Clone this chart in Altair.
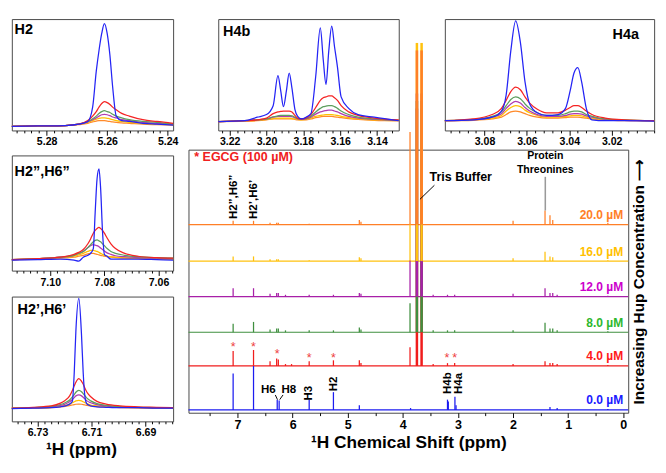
import altair as alt
import numpy as np
import pandas as pd

# ---------------- series / colours ----------------
SERIES = ["0.0", "4.0", "8.0", "12.0", "16.0", "20.0"]
CONC_LABELS = ["0.0 µM", "4.0 µM", "8.0 µM", "12.0 µM", "16.0 µM", "20.0 µM"]
LINE_COLORS = ["#1c1cf0", "#f01c1c", "#3f8f3f", "#a820a8", "#ffc20e", "#ff7f27"]
LABEL_COLORS = ["#1a1aff", "#ff1a1a", "#2eb82e", "#cc00cc", "#ffc000", "#ff7f27"]
INSET_COLORS = ["#2424f5", "#f52424", "#5e9e5e", "#b03cb0", "#ffc000", "#ff8a2a"]
INSET_DRAW_ORDER = ["20.0", "16.0", "12.0", "8.0", "4.0", "0.0"]
STACK_OFFSET = [3, 50, 86, 124, 162, 201]

# ---------------- main 1D spectra (peak positions / heights) ----------------
PEAK_PPM = {
    "0.0": [7.08, 6.71, 6.28, 6.245, 5.70, 5.26, 4.79, 3.86, 3.19, 3.175, 3.055, 3.035, 1.33, 1.20, 0.28],
    "4.0": [7.08, 6.71, 6.41, 6.29, 6.26, 6.13, 6.02, 5.70, 5.26, 4.79, 4.76, 3.87, 3.45, 3.19, 3.06, 2.00, 1.42, 1.33, 1.28, 1.20, 0.28],
    "8.0": [7.08, 6.71, 6.41, 6.29, 6.26, 6.13, 5.70, 5.26, 4.79, 4.76, 3.87, 3.45, 3.19, 3.06, 2.00, 1.42, 1.33, 1.28, 1.20, 0.28],
    "12.0": [7.08, 6.71, 6.41, 6.29, 6.26, 6.13, 5.70, 5.26, 4.79, 4.76, 3.87, 3.45, 3.19, 3.06, 2.00, 1.42, 1.33, 1.28, 1.20, 0.28],
    "16.0": [7.08, 6.71, 6.41, 6.29, 6.26, 5.70, 4.79, 4.76, 3.87, 2.00, 1.42, 1.33, 1.28, 0.28],
    "20.0": [7.08, 6.71, 6.41, 6.29, 6.26, 5.70, 4.79, 4.76, 3.87, 2.00, 1.42, 1.33, 1.28, 0.28],
}
PEAK_H = {
    "0.0": [39, 47, 11, 10, 11, 19, 5, 2, 11, 9, 14, 5, 3, 2, 1],
    "4.0": [16, 17, 5, 8, 7, 2, 2, 5, 6, 6, 3, 20, 2, 3, 3, 2, 5, 3, 3, 2, 1],
    "8.0": [9, 11, 3, 4, 4, 2, 2, 2, 5, 3, 31, 2, 2, 2, 2, 10, 4, 4, 2, 1],
    "12.0": [9, 9, 3, 4, 4, 2, 2, 2, 4, 3, 39, 2, 2, 2, 3, 9, 4, 4, 2, 1],
    "16.0": [5, 5, 2, 2, 2, 1, 4, 3, 40, 3, 10, 5, 4, 1],
    "20.0": [4, 4, 2, 2, 2, 1, 5, 3, 99, 4, 15, 10, 5, 2],
}
TALL_PPM = [3.745, 3.66]
TALL_H = {"4.0": [275, 275], "8.0": [247, 247], "12.0": [217, 217], "16.0": [233, 233], "20.0": [186, 186]}

ROT_LABELS = ["H2\u201d,H6\u201d", "H2\u2019,H6\u2019", "H3", "H2", "H4b", "H4a"]
ROT_PPM = [7.08, 6.71, 5.72, 5.265, 3.20, 3.00]
ROT_Y = [207, 207, 13, 23, 20, 20]
HOR_LABELS = ["H6", "H8"]
HOR_PPM = [6.44, 6.07]
HOR_Y = [25, 25]
STAR_PPM = [7.08, 6.71, 6.28, 5.70, 5.26, 3.20, 3.06]
STAR_Y = [73, 73, 66, 61, 61, 61, 61]

# ---------------- inset spectra ----------------
H2_PPM = [5.2915, 5.2830, 5.2739, 5.2694, 5.2664, 5.2648, 5.2636, 5.2627, 5.2618, 5.2609, 5.2600,
          5.2591, 5.2582, 5.2570, 5.2552, 5.2527, 5.2482, 5.2436, 5.2382]
H2_VAL = {
    "0.0": [0.5, 1, 1.5, 3, 6, 22, 62, 85, 104, 115, 104, 80, 45, 12, 7, 6, 4, 3, 2],
    "4.0": [0.5, 1, 1.5, 3, 7, 12, 17, 22, 26, 28, 27, 25, 22, 19, 15, 12, 8, 6, 4],
    "8.0": [0.5, 1, 1.5, 3, 6, 9, 12, 15, 17, 18, 17, 16, 14, 12, 10, 8, 6, 5, 3],
    "12.0": [0.5, 1, 1.5, 3, 5.5, 8, 10, 12, 13.5, 14, 13.5, 12.5, 11, 10, 8, 7, 5, 4, 3],
    "16.0": [0.5, 1, 1.5, 3, 5, 7, 8.5, 9.5, 10, 10, 9.5, 9, 8, 7, 6, 5, 4, 3, 2.5],
    "20.0": [0.5, 1, 1.5, 2.5, 4, 5.5, 6.5, 7, 7, 7, 6.5, 6, 5.5, 5, 4.5, 4, 3, 2.5, 2],
}
H4B_PPM = [3.2262, 3.2118, 3.2051, 3.2000, 3.1964, 3.1938, 3.1923, 3.1908, 3.1892, 3.1877, 3.1862,
           3.1846, 3.1831, 3.1810, 3.1785, 3.1759, 3.1733, 3.1708, 3.1692, 3.1677, 3.1662, 3.1646,
           3.1631, 3.1615, 3.1595, 3.1554, 3.1503, 3.1415, 3.1282]
H4B_VAL = {
    "0.0": [0, 1, 5, 8, 18, 52, 35, 17, 35, 55, 38, 14, 6, 3, 5, 9, 51, 106, 70, 42, 80, 108, 85, 62, 28, 15, 8, 5, 1],
    "4.0": [0, 1, 2, 4, 9, 11, 11.5, 12, 12, 12, 11, 7, 4, 3, 4, 8, 16, 24, 27, 28, 29, 29, 27, 24, 18, 11, 7, 4, 2],
    "8.0": [0, 1, 2, 3, 5.5, 6.5, 7, 7, 7, 7, 6.5, 5, 3.5, 3, 3.5, 6, 11, 15, 17, 17.5, 18, 18, 17, 15, 12, 8, 5, 3, 1.5],
    "12.0": [0, 1, 2, 3, 5, 6, 6, 6, 6, 6, 5.5, 4.5, 3, 2.5, 3, 5, 8.5, 11, 12, 12.5, 13, 13, 12, 11, 9, 6, 4, 2.5, 1],
    "16.0": [0, 1, 1.5, 2.5, 3.5, 4, 4, 4, 4, 4, 3.5, 3, 2.5, 2, 2.5, 4, 6, 7, 7.5, 8, 8, 8, 7.5, 7, 6, 4.5, 3, 2, 1],
    "20.0": [0, 0.5, 1, 2, 3, 3, 3, 3, 3, 3, 3, 2.5, 2, 2, 2, 3, 4.5, 5.5, 6, 6, 6, 6, 5.5, 5, 4.5, 3.5, 2.5, 1.5, 1],
}
H4A_PPM = [3.0987, 3.0853, 3.0764, 3.0720, 3.0698, 3.0676, 3.0653, 3.0631, 3.0609, 3.0587, 3.0551,
           3.0507, 3.0453, 3.0418, 3.0396, 3.0378, 3.0360, 3.0342, 3.0320, 3.0293, 3.0231, 3.0142, 3.0000]
H4A_VAL = {
    "0.0": [1, 2, 5, 12, 30, 80, 114, 90, 45, 20, 10, 7, 8, 15, 35, 55, 61, 45, 15, 2, 1, 1, 0.5],
    "4.0": [1, 3, 8, 15, 24, 34, 39, 36, 28, 21, 14, 10, 10, 13, 16, 18, 18, 16, 12, 8, 4, 2, 1],
    "8.0": [1, 2.5, 6, 11, 18, 25, 28, 26, 20, 15, 10, 7, 7, 9, 11, 12, 12, 11, 8, 6, 3, 2, 1],
    "12.0": [1, 2, 5, 9, 15, 20, 23, 21, 16, 12, 8, 6, 6, 7, 8.5, 9, 9, 8.5, 6.5, 5, 2.5, 1.5, 1],
    "16.0": [1, 2, 4, 7, 12, 16, 18, 17, 13, 10, 7, 5, 5, 6, 6.5, 7, 7, 6.5, 5, 4, 2, 1.5, 1],
    "20.0": [1, 1.5, 3, 5, 8, 11, 12, 11, 9, 7, 5, 4, 4, 4.5, 5, 5, 5, 4.5, 4, 3, 2, 1, 1],
}
H26PP_PPM = [7.1142, 7.1047, 7.0963, 7.0912, 7.0895, 7.0878, 7.0861, 7.0851, 7.0841, 7.0834, 7.0827,
             7.0820, 7.0814, 7.0807, 7.0800, 7.0790, 7.0776, 7.0759, 7.0725, 7.0675, 7.0607, 7.0546]
H26PP_VAL = {
    "0.0": [0, 0.5, 1, 0, -1, 3, 5, 7, 12, 50, 85, 95, 75, 30, 6, 4, 1, 1, 1, 1, 0.5, 0],
    "4.0": [0.5, 1.5, 3, 6, 8, 11, 17, 22, 28, 31, 33, 34, 33, 31, 28, 23, 17, 12, 7, 4, 2.5, 2],
    "8.0": [0.5, 1.5, 3, 5, 7, 9, 13, 16, 19, 20.5, 21, 20, 19, 17, 15, 12, 9, 7, 5, 3.5, 2.5, 2],
    "12.0": [0.5, 1.5, 3, 5, 7, 9, 13, 15, 16, 15.5, 15, 14, 12.5, 11, 9.5, 7.5, 6, 4.5, 3.5, 2.5, 2, 1.5],
    "16.0": [0.5, 1.5, 2.5, 4, 5.5, 7, 9, 10, 10, 9.5, 9, 8, 7, 6, 5, 4, 3.5, 3, 2.5, 2, 1.5, 1],
    "20.0": [0.5, 1, 2, 3, 4, 5, 6.5, 7, 7, 6.5, 6, 5.5, 5, 4.5, 4, 3.5, 3, 2.5, 2, 1.5, 1.2, 1],
}
H26P_PPM = [6.7395, 6.7317, 6.7249, 6.7215, 6.7198, 6.7181, 6.7171, 6.7164, 6.7158, 6.7147, 6.7137,
            6.7131, 6.7124, 6.7117, 6.7103, 6.7080, 6.7046, 6.6995, 6.6927, 6.6859, 6.6798]
H26P_VAL = {
    "0.0": [0, 0.5, 1, 2, 3, 5, 8, 40, 85, 121, 80, 40, 12, 5, 3, 2, 1.5, 1, 1, 0.5, 0.5],
    "4.0": [0.5, 1.5, 3, 6, 9, 14, 20, 25, 29, 33, 30, 27, 22, 18, 13, 8, 5, 3, 2, 1.5, 1],
    "8.0": [0.5, 1.2, 2.5, 4.5, 6.5, 9.5, 13, 15.5, 18, 20, 18.5, 16.5, 14, 11.5, 8.5, 5.5, 3.5, 2.2, 1.5, 1, 0.8],
    "12.0": [0.4, 1, 2, 3.5, 5, 7.5, 10, 12, 14, 15, 14, 12.5, 10.5, 8.5, 6.5, 4.5, 3, 2, 1.2, 0.8, 0.6],
    "16.0": [0.3, 0.8, 1.5, 2.5, 3.5, 5, 6.5, 7.5, 8.5, 9, 8.5, 7.5, 6.5, 5.5, 4, 3, 2, 1.5, 1, 0.6, 0.5],
    "20.0": [0.3, 0.6, 1.2, 2, 2.5, 3.3, 4, 4.5, 4.8, 5, 4.8, 4.5, 4, 3.5, 2.8, 2.2, 1.6, 1.2, 0.8, 0.5, 0.4],
}

FONT = "Liberation Sans"


def inset(ppm, vals, xdom, ydom, w, h, majors, step, title, title_ppm, title_val, anchor="left",
          xtitle=None):
    rows = []
    for s in INSET_DRAW_ORDER:
        for p, v in zip(ppm, vals[s]):
            rows.append({"ppm": p, "val": v, "s": s})
    df = pd.DataFrame(rows)
    k0 = int(np.ceil(xdom[0] / step - 1e-6))
    k1 = int(np.floor(xdom[1] / step + 1e-6))
    ticks = [round(k * step, 4) for k in range(k0, k1 + 1)]
    mj = "[" + ",".join(repr(m) for m in majors) + "]"
    test = "indexof(%s, datum.value) >= 0" % mj
    ax = dict(values=ticks, labelExpr="%s ? format(datum.value, '.2f') : ''" % test,
              tickSize={"condition": {"test": test, "value": 5}, "value": 2.5},
              labelFontSize=11, labelPadding=1, labelFlush=False, labelOverlap=False,
              domain=False, grid=False)
    if xtitle:
        ax.update(title=xtitle, titleFontSize=18, titlePadding=3, titleX=72)
    else:
        ax["title"] = None
    X = alt.X("ppm:Q", scale=alt.Scale(domain=list(xdom), reverse=True, nice=False, zero=False),
              axis=alt.Axis(**ax))
    Y = alt.Y("val:Q", scale=alt.Scale(domain=list(ydom), nice=False, zero=False), axis=None)
    lines = alt.Chart(df).mark_line(strokeWidth=1.3, interpolate="monotone").encode(
        x=X, y=Y,
        color=alt.Color("s:N", scale=alt.Scale(domain=SERIES, range=INSET_COLORS), legend=None))
    lab = alt.Chart(pd.DataFrame({"lab": [title], "ppm": [title_ppm], "val": [title_val]})).mark_text(
        align=anchor, baseline="top", font=FONT, fontWeight="bold", fontSize=15, color="black").encode(
        x=X, y=Y, text="lab:N")
    return alt.layer(lines, lab).properties(width=w, height=h)


p_h2 = inset(H2_PPM, H2_VAL, (5.2382, 5.2915), (-4, 120), 168, 116, [5.24, 5.26, 5.28], 0.0025,
             "H2", 5.2906, 116)
p_h4b = inset(H4B_PPM, H4B_VAL, (3.1282, 3.2262), (-10, 116), 188, 116,
              [3.14, 3.16, 3.18, 3.2, 3.22], 0.004, "H4b", 3.2236, 110)
p_h4a = inset(H4A_PPM, H4A_VAL, (3.0000, 3.0987), (-10, 116), 218, 116,
              [3.02, 3.04, 3.06, 3.08], 0.004, "H4a", 3.0072, 107, anchor="right")
p_h26pp = inset(H26PP_PPM, H26PP_VAL, (7.0546, 7.1142), (-11, 109), 168, 120,
                [7.06, 7.08, 7.1], 0.0025, "H2\u201d,H6\u201d", 7.1132, 100)
p_h26p = inset(H26P_PPM, H26P_VAL, (6.6798, 6.7395), (-14, 123), 168, 130,
               [6.69, 6.71, 6.73], 0.0025, "H2\u2019,H6\u2019", 6.7374, 117, xtitle="\u00b9H (ppm)")

# ---------------- main panel ----------------
X_LO, X_HI = -0.09, 7.89
main_ticks = [round(k * 0.5, 1) for k in range(0, 16)]
main_xaxis = alt.Axis(title="\u00b9H Chemical Shift (ppm)", values=main_ticks,
                      labelExpr="datum.value % 1 == 0 ? format(datum.value, 'd') : ''",
                      tickSize={"condition": {"test": "datum.value % 1 == 0", "value": 5}, "value": 3},
                      labelFontSize=13, labelPadding=1, titleFontSize=18, titlePadding=3,
                      labelFlush=False, labelOverlap=False, domain=False, grid=False)
main_yaxis = alt.Axis(orient="right", title="Increasing Hup Concentration \u27f6", labels=False,
                      ticks=False, domain=False, grid=False, titleAngle=270, titleBaseline="top",
                      titlePadding=3, titleFontSize=16)
xs = alt.Scale(domain=[X_LO, X_HI], reverse=True, nice=False, zero=False)
ys = alt.Scale(domain=[0, 281], nice=False, zero=False)


def MX(f):
    return alt.X(f, type="quantitative", scale=xs, axis=main_xaxis)


def MY(f):
    return alt.Y(f, type="quantitative", scale=ys, axis=main_yaxis)


line_color = alt.Color("s:N", scale=alt.Scale(domain=SERIES, range=LINE_COLORS), legend=None)

base_df = pd.DataFrame({"s": SERIES, "base": STACK_OFFSET, "xa": X_HI, "xb": X_LO})
stick_rows, tall_rows = [], []
for s, b in zip(SERIES, STACK_OFFSET):
    for p, hgt in zip(PEAK_PPM[s], PEAK_H[s]):
        stick_rows.append({"s": s, "ppm": p, "y0": b, "y1": b + hgt})
    if s in TALL_H:
        for p, hgt in zip(TALL_PPM, TALL_H[s]):
            tall_rows.append({"s": s, "ppm": p, "y0": b, "y1": b + hgt})
stick_df = pd.DataFrame(stick_rows)
tall_df = pd.DataFrame(tall_rows)

baselines = alt.Chart(base_df).mark_rule(strokeWidth=1.2).encode(
    x=MX("xa"), x2=alt.X2("xb"), y=MY("base"), color=line_color)
sticks = alt.Chart(stick_df).mark_rule(strokeWidth=1.3).encode(
    x=MX("ppm"), y=MY("y0"), y2=alt.Y2("y1"), color=line_color)
talls = alt.Chart(tall_df).mark_rule(strokeWidth=2.6).encode(
    x=MX("ppm"), y=MY("y0"), y2=alt.Y2("y1"), color=line_color)

conc_df = pd.DataFrame({"lab": CONC_LABELS, "y": [b + 10 for b in STACK_OFFSET], "ppm": 0.0})
conc = alt.Chart(conc_df).mark_text(align="right", baseline="middle", font=FONT, fontWeight="bold",
                                     fontSize=12.5).encode(
    x=MX("ppm"), y=MY("y"), text="lab:N",
    color=alt.Color("lab:N", scale=alt.Scale(domain=CONC_LABELS, range=LABEL_COLORS), legend=None))

star_df = pd.DataFrame({"ppm": STAR_PPM, "y": STAR_Y})
stars = alt.Chart(star_df).mark_text(text="*", color="#ee4040", fontSize=13, font=FONT,
                                     baseline="middle", dy=3).encode(x=MX("ppm"), y=MY("y"))

rot_df = pd.DataFrame({"lab": ROT_LABELS, "ppm": ROT_PPM, "y": ROT_Y})
rot = alt.Chart(rot_df).mark_text(angle=270, align="left", baseline="middle", font=FONT,
                                  fontWeight="bold", fontSize=12, color="black").encode(
    x=MX("ppm"), y=MY("y"), text="lab:N")
hor_df = pd.DataFrame({"lab": HOR_LABELS, "ppm": HOR_PPM, "y": HOR_Y})
hor = alt.Chart(hor_df).mark_text(align="center", baseline="middle", font=FONT,
                                  fontWeight="bold", fontSize=12, color="black").encode(
    x=MX("ppm"), y=MY("y"), text="lab:N")

egcg = alt.Chart(pd.DataFrame({"lab": ["* EGCG (100 µM)"], "ppm": [7.785], "y": [273]})).mark_text(
    align="left", baseline="middle", font=FONT, fontWeight="bold", fontSize=13, color="#f02020").encode(
    x=MX("ppm"), y=MY("y"), text="lab:N")
tris = alt.Chart(pd.DataFrame({"lab": ["Tris Buffer"], "ppm": [3.515], "y": [252]})).mark_text(
    align="left", baseline="middle", font=FONT, fontWeight="bold", fontSize=13, color="black").encode(
    x=MX("ppm"), y=MY("y"), text="lab:N")
prot = alt.Chart(pd.DataFrame({"lab": ["Protein", "Threonines"], "ppm": [1.415, 1.415],
                               "y": [274, 259]})).mark_text(
    align="center", baseline="middle", font=FONT, fontWeight="bold", fontSize=11, color="black").encode(
    x=MX("ppm"), y=MY("y"), text="lab:N")

lead_df = pd.DataFrame({"x": [3.427, 6.315, 6.175], "x2": [3.69, 6.275, 6.235],
                        "y": [243, 19, 19], "y2": [228, 14, 14]})
leads = alt.Chart(lead_df).mark_rule(color="black", strokeWidth=1).encode(
    x=MX("x"), x2=alt.X2("x2"), y=MY("y"), y2=alt.Y2("y2"))
thr_df = pd.DataFrame({"x": [1.415], "y": [252], "y2": [216]})
thr = alt.Chart(thr_df).mark_rule(color="#9a9a9a", strokeWidth=1.6).encode(
    x=MX("x"), y=MY("y"), y2=alt.Y2("y2"))

main = alt.layer(baselines, sticks, talls, conc, stars, rot, hor, egcg, tris, prot, leads, thr).resolve_scale(
    color="independent").properties(width=458, height=274)


def spacer(w, h):
    return alt.Chart(pd.DataFrame({"v": [0]})).mark_point(opacity=0, size=1).encode(
        x=alt.value(1), y=alt.value(1)).properties(
        width=w, height=h, view=alt.ViewBackground(strokeOpacity=0, strokeWidth=0))


# ---------------- layout ----------------
left = alt.vconcat(p_h2, p_h26pp, p_h26p, spacing=7)
top_right = alt.hconcat(spacer(27, 116), p_h4b, spacer(40, 116), p_h4a, spacing=0)
right = alt.vconcat(top_right, main, spacing=-111)
chart = alt.hconcat(left, right, spacing=8).properties(padding=0, background="white")
chart = chart.configure_view(stroke="#444", strokeWidth=1).configure_axis(
    labelFont=FONT, labelFontWeight="bold", labelColor="black", titleFont=FONT,
    titleFontWeight="bold", titleColor="black", tickColor="black", tickWidth=1)

chart.save("out.html", embed_options={"renderer": "svg", "actions": False})
